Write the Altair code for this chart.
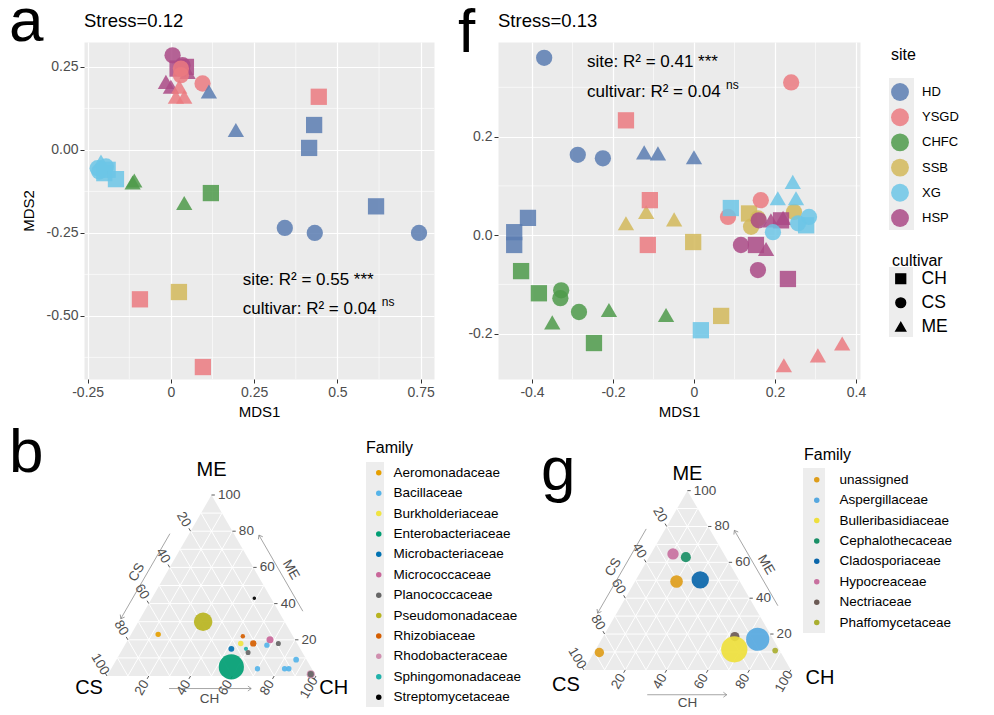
import altair as alt
import pandas as pd

FONT = "Liberation Sans"
S3 = 0.8660254

# ---------------- NMDS panels ----------------
SITES = ["HD", "YSGD", "CHFC", "SSB", "XG", "HSP"]
SITE_COLORS = ["#5B7DB1", "#EB7A80", "#4E9A4A", "#D2B95A", "#6CC5E6", "#AA4A86"]
CULTIVARS = ["CH", "CS", "ME"]
CULTIVAR_SHAPES = ["square", "circle", "triangle-up"]

# panel a (drawing order)
a_site = ["HSP", "HSP", "HSP", "HSP", "HSP", "HSP", "HSP",
          "YSGD", "YSGD", "YSGD", "YSGD", "YSGD", "YSGD", "YSGD", "YSGD", "YSGD",
          "HD", "HD", "HD", "HD", "HD", "HD", "HD", "HD",
          "XG", "XG", "XG", "XG", "XG", "XG", "XG",
          "CHFC", "CHFC", "CHFC", "CHFC",
          "SSB"]
a_cultivar = ["CS", "ME", "ME", "ME", "CS", "CH", "CH",
              "CS", "CS", "CS", "ME", "ME", "ME", "CH", "CH", "CH",
              "ME", "ME", "CH", "CH", "CH", "CS", "CS", "CS",
              "ME", "CS", "CS", "CS", "CH", "CH", "CH",
              "ME", "ME", "ME", "CH",
              "CH"]
a_mds1 = [0.005, -0.015, 0.0, 0.05, 0.035, 0.02, 0.045,
          0.03, 0.03, 0.095, 0.015, 0.04, 0.025, 0.444, -0.093, 0.096,
          0.114, 0.195, 0.43, 0.415, 0.616, 0.342, 0.432, 0.745,
          -0.21, -0.22, -0.195, -0.215, -0.19, -0.2, -0.165,
          -0.11, -0.115, 0.04, 0.12,
          0.024]
a_mds2 = [0.285, 0.205, 0.19, 0.235, 0.255, 0.245, 0.25,
          0.245, 0.225, 0.2, 0.16, 0.16, 0.19, 0.16, -0.45, -0.654,
          0.176, 0.06, 0.075, 0.006, -0.17, -0.235, -0.25, -0.25,
          -0.035, -0.055, -0.05, -0.065, -0.06, -0.07, -0.088,
          -0.092, -0.098, -0.16, -0.13,
          -0.428]

# panel f (drawing order)
f_site = ["SSB"] * 9 + ["YSGD"] * 9 + ["HSP"] * 9 + ["XG"] * 9 + ["HD"] * 9 + ["CHFC"] * 9
f_cultivar = ["ME", "ME", "ME", "CH", "CH", "CH", "CS", "CS", "CS",
              "CS", "CH", "CH", "CH", "CS", "CS", "ME", "ME", "ME",
              "CS", "CS", "CS", "CH", "CH", "CH", "ME", "ME", "ME",
              "CH", "CH", "CH", "ME", "ME", "ME", "CS", "CS", "CS",
              "CS", "CS", "CS", "ME", "ME", "ME", "CH", "CH", "CH",
              "CH", "CH", "CS", "CS", "CS", "ME", "ME", "ME", "CH"]
f_mds1 = [-0.168, -0.118, -0.049, -0.002, 0.067, 0.136, 0.141, 0.158, 0.247,
          0.24, -0.168, -0.109, -0.114, 0.084, 0.165, 0.222, 0.306, 0.366,
          0.116, 0.158, 0.16, 0.153, 0.232, 0.215, 0.178, 0.19, 0.22,
          0.091, 0.017, 0.277, 0.244, 0.207, 0.252, 0.284, 0.257, 0.195,
          -0.37, -0.287, -0.225, -0.123, -0.089, 0.0, -0.41, -0.444, -0.444,
          -0.427, -0.383, -0.328, -0.33, -0.284, -0.35, -0.21, -0.069, -0.247]
f_mds2 = [0.024, 0.047, 0.032, -0.014, -0.164, 0.044, 0.017, 0.034, 0.047,
          0.31, 0.233, 0.071, -0.02, 0.037, 0.071, -0.264, -0.244, -0.22,
          -0.02, -0.071, 0.03, -0.02, -0.089, 0.03, -0.028, 0.03, 0.035,
          0.055, -0.193, 0.02, 0.108, 0.075, 0.075, 0.037, 0.024, 0.006,
          0.36, 0.163, 0.156, 0.168, 0.166, 0.158, 0.035, 0.006, -0.02,
          -0.073, -0.118, -0.112, -0.128, -0.156, -0.177, -0.152, -0.162, -0.219]

A_XTICKS = [-0.25, 0, 0.25, 0.5, 0.75]
A_YTICKS = [-0.5, -0.25, 0, 0.25]
A_XMINOR = [-0.125, 0.125, 0.375, 0.625]
A_YMINOR = [-0.625, -0.375, -0.125, 0.125]
F_XTICKS = [-0.4, -0.2, 0, 0.2, 0.4]
F_YTICKS = [-0.2, 0, 0.2]
F_XMINOR = [-0.3, -0.1, 0.1, 0.3]
F_YMINOR = [-0.1, 0.1, 0.3]

# ---------------- Ternary panels ----------------
B_FAMILIES = ["Aeromonadaceae", "Bacillaceae", "Burkholderiaceae", "Enterobacteriaceae",
              "Microbacteriaceae", "Micrococcaceae", "Planococcaceae", "Pseudomonadaceae",
              "Rhizobiaceae", "Rhodobacteraceae", "Sphingomonadaceae", "Streptomycetaceae"]
B_COLORS = ["#E69F00", "#56B4E9", "#F0E442", "#009E73", "#0072B2", "#C9679A",
            "#666666", "#B8B420", "#D55E00", "#D08FAF", "#20B2AA", "#000000"]
b_family = ["Enterobacteriaceae", "Pseudomonadaceae", "Rhodobacteraceae", "Planococcaceae",
            "Aeromonadaceae", "Streptomycetaceae", "Rhizobiaceae", "Rhizobiaceae",
            "Burkholderiaceae", "Microbacteriaceae", "Sphingomonadaceae", "Planococcaceae",
            "Micrococcaceae", "Bacillaceae", "Planococcaceae", "Bacillaceae", "Bacillaceae",
            "Bacillaceae", "Bacillaceae"]
b_CH = [57, 31, 97, 97, 13, 49, 54, 61, 55, 52, 59, 61, 68, 68, 73, 86, 85, 83, 70]
b_ME = [5, 30, 1, 1, 23, 43, 22, 18, 18, 15, 15, 13, 20, 17, 18, 9, 4, 4, 4]
b_CS = [38, 39, 2, 2, 64, 8, 24, 21, 27, 33, 26, 26, 12, 15, 9, 5, 11, 13, 26]
b_abund = [29.5, 16.0, 3.0, 1.8, 1.4, 0.6, 0.9, 1.9, 1.4, 1.6, 0.8, 1.2, 2.3, 1.3, 1.2, 1.5, 1.4, 1.4, 1.3]

G_FAMILIES = ["unassigned", "Aspergillaceae", "Bulleribasidiaceae", "Cephalothecaceae",
              "Cladosporiaceae", "Hypocreaceae", "Nectriaceae", "Phaffomycetaceae"]
G_COLORS = ["#DE9D1A", "#56A8E0", "#EEDF3C", "#1A8F66", "#0A66AA", "#C8709F", "#6B5A55", "#A9AE30"]
g_family = ["Nectriaceae", "Bulleribasidiaceae", "Aspergillaceae", "Cladosporiaceae",
            "unassigned", "Hypocreaceae", "Cephalothecaceae", "unassigned", "Phaffomycetaceae"]
g_CH = [63.6, 66.9, 75.4, 31.1, 20.1, 10.7, 17.8, 2.6, 87.0]
g_ME = [18.6, 11.5, 17.1, 50.2, 49.3, 64.7, 62.9, 9.7, 10.8]
g_CS = [17.8, 21.6, 7.5, 18.7, 30.6, 24.6, 19.3, 87.7, 2.2]
g_abund = [4.0, 32.0, 25.0, 14.0, 7.4, 6.0, 4.7, 4.1, 1.5]

TERN_TICKS = [20, 40, 60, 80, 100]
TERN_GRID = [10, 20, 30, 40, 50, 60, 70, 80, 90]

KEY_FILL = "#EDEDED"
MINUS = "\u2212"

# ---------------- builders ----------------

def letter_layer(letter, dx, dy):
    return alt.Chart(pd.DataFrame({"lab": [letter]})).mark_text(
        fontSize=62, align="left", baseline="alphabetic", color="black"
    ).encode(x=alt.value(dx), y=alt.value(dy), text="lab:N")


def key_box(x1, x2, y1, y2):
    return alt.Chart(pd.DataFrame({"k": [0]})).mark_rect(color=KEY_FILL).encode(
        x=alt.value(x1), x2=alt.value(x2), y=alt.value(y1), y2=alt.value(y2))


def label_expr(fmt):
    return f"replace(format(datum.value, '{fmt}'), '{MINUS}', '-')"


def nmds_panel(site, cult, m1, m2, xdom, ydom, width, height, xt, yt, xm, ym,
               xfmt, yfmt, ytitle, stress, letter, letter_dx, letter_dy,
               r2_x, r2_y1, r2_y2, r2_site, r2_cult, legends):
    df = pd.DataFrame({"site": site, "cultivar": cult, "MDS1": m1, "MDS2": m2})
    xs = alt.Scale(domain=xdom, nice=False, zero=False)
    ys = alt.Scale(domain=ydom, nice=False, zero=False)
    xaxis = alt.Axis(values=xt, labelExpr=label_expr(xfmt), title="MDS1", titlePadding=5)
    if ytitle:
        yaxis = alt.Axis(values=yt, labelExpr=label_expr(yfmt), title=ytitle, titlePadding=10)
    else:
        yaxis = alt.Axis(values=yt, labelExpr=label_expr(yfmt), title=None)
    vmin = alt.Chart(pd.DataFrame({"v": xm})).mark_rule(color="white", strokeWidth=0.6).encode(
        x=alt.X("v:Q", scale=xs, axis=xaxis))
    hmin = alt.Chart(pd.DataFrame({"v": ym})).mark_rule(color="white", strokeWidth=0.6).encode(
        y=alt.Y("v:Q", scale=ys, axis=yaxis))
    if legends:
        cleg = alt.Legend(orient="none", legendX=393, legendY=5, title="site", titleFontSize=16,
                          titlePadding=20, labelFontSize=13, symbolSize=320, symbolType="circle",
                          symbolOpacity=0.85, symbolStrokeWidth=0, rowPadding=7.2, labelOffset=13)
        sleg = alt.Legend(orient="none", legendX=394, legendY=211, title="cultivar", titleFontSize=16,
                          titlePadding=1, labelFontSize=17.5, symbolSize=95, symbolFillColor="black",
                          symbolStrokeColor="black", symbolOpacity=1, rowPadding=5, labelOffset=12)
    else:
        cleg = None
        sleg = None
    pts = alt.Chart(df).mark_point(filled=True, opacity=0.85, size=265, strokeWidth=0).encode(
        x=alt.X("MDS1:Q", scale=xs, axis=xaxis),
        y=alt.Y("MDS2:Q", scale=ys, axis=yaxis),
        color=alt.Color("site:N", scale=alt.Scale(domain=SITES, range=SITE_COLORS), legend=cleg),
        shape=alt.Shape("cultivar:N", scale=alt.Scale(domain=CULTIVARS, range=CULTIVAR_SHAPES), legend=sleg),
    )
    st = alt.Chart(pd.DataFrame({"lab": [stress]})).mark_text(
        fontSize=18.5, align="left", baseline="alphabetic", color="black"
    ).encode(x=alt.value(0), y=alt.value(-15), text="lab:N")

    def ann(txt, yv, size, dx, dy):
        return alt.Chart(pd.DataFrame({"lab": [txt]})).mark_text(
            fontSize=size, align="left", baseline="middle", color="black", dx=dx, dy=dy
        ).encode(x=alt.XDatum(r2_x, scale=xs, axis=xaxis), y=alt.YDatum(yv, scale=ys, axis=yaxis),
                 text="lab:N")

    t1 = ann(r2_site, r2_y1, 17, 0, 0)
    t2 = ann(r2_cult, r2_y2, 17, 0, 0)
    t3 = ann("ns", r2_y2, 12, 139, -7)
    layers = [vmin, hmin, pts, t1, t2, t3, st, letter_layer(letter, letter_dx, letter_dy)]
    if legends:
        layers = [key_box(391, 416, 36, 188), key_box(391, 415, 225, 295)] + layers
    return alt.layer(*layers).properties(
        width=width, height=height, view=alt.ViewBackground(fill="#EBEBEB", stroke="transparent"))


ARROW = "M -1 -0.75 L 0 0 L -1 0.75"


def ternary_panel(fam, ch, me, cs, ab, fam_dom, fam_col, xdom, ydom, pxu, leg_x, leg_y, leg_pad, leg_row,
                  leg_lo, letter, letter_dx, letter_dy, vlabels, arrows, keybox):
    xs = alt.Scale(domain=xdom, nice=False, zero=False)
    ys = alt.Scale(domain=ydom, nice=False, zero=False)
    width = (xdom[1] - xdom[0]) * pxu
    height = (ydom[1] - ydom[0]) * pxu

    def X(f):
        return alt.X(f, type="quantitative", scale=xs, axis=None)

    def Y(f):
        return alt.Y(f, type="quantitative", scale=ys, axis=None)

    def XD(v):
        return alt.XDatum(v, scale=xs, axis=None)

    def YD(v):
        return alt.YDatum(v, scale=ys, axis=None)

    corners = pd.DataFrame({"CH": [0, 0, 100], "ME": [0, 100, 0]})
    frame = alt.Chart(corners).transform_calculate(
        x="datum.CH + datum.ME/2", y=f"datum.ME*{S3}"
    ).mark_area(color="#EBEBEB", opacity=1).encode(x=X("x"), y=Y("y"), y2=alt.Y2Datum(0))

    def segs(values, x1, y1, x2, y2, color, w):
        return alt.Chart(pd.DataFrame({"t": values})).transform_calculate(
            x1=x1, y1=y1, x2=x2, y2=y2
        ).mark_rule(color=color, strokeWidth=w).encode(x=X("x1"), y=Y("y1"), x2="x2:Q", y2="y2:Q")

    grid = [
        segs(TERN_GRID, "datum.t/2", f"datum.t*{S3}", "100-datum.t/2", f"datum.t*{S3}", "white", 1.0),
        segs(TERN_GRID, "datum.t", "0", "50+datum.t/2", f"(100-datum.t)*{S3}", "white", 1.0),
        segs(TERN_GRID, "100-datum.t", "0", "(100-datum.t)/2", f"(100-datum.t)*{S3}", "white", 1.0),
    ]
    tk = 1.6
    ticks = [
        segs(TERN_TICKS, "100-datum.t/2", f"datum.t*{S3}", f"100-datum.t/2+{tk}", f"datum.t*{S3}", "#333333", 0.8),
        segs(TERN_TICKS, "(100-datum.t)/2", f"(100-datum.t)*{S3}", f"(100-datum.t)/2-{tk*0.5}",
             f"(100-datum.t)*{S3}+{tk*S3}", "#333333", 0.8),
        segs(TERN_TICKS, "datum.t", "0", f"datum.t-{tk*0.5}", f"-{tk*S3}", "#333333", 0.8),
    ]

    def labs(x, y, angle, align):
        return alt.Chart(pd.DataFrame({"t": TERN_TICKS})).transform_calculate(x=x, y=y).mark_text(
            angle=angle, align=align, baseline="middle", fontSize=13.5, color="#4D4D4D"
        ).encode(x=X("x"), y=Y("y"), text="t:Q")

    off = 6.5
    tick_labels = [
        labs(f"100-datum.t/2+{tk+1.5}", f"datum.t*{S3}", 0, "left"),
        labs(f"(100-datum.t)/2-{off*0.5}", f"(100-datum.t)*{S3}+{off*S3}", 60, "center"),
        labs(f"datum.t-{off*0.5}", f"-{off*S3}", 300, "center"),
    ]

    pts_df = pd.DataFrame({"family": fam, "CH": ch, "ME": me, "CS": cs, "ab": ab})
    pts = alt.Chart(pts_df).transform_calculate(
        tot="datum.CH+datum.ME+datum.CS",
        x="100*(datum.CH + datum.ME/2)/datum.tot",
        y=f"100*datum.ME*{S3}/datum.tot",
    ).mark_circle(opacity=0.92).encode(
        x=X("x"), y=Y("y"),
        color=alt.Color("family:N", scale=alt.Scale(domain=fam_dom, range=fam_col),
                        legend=alt.Legend(orient="none", legendX=leg_x, legendY=leg_y, title="Family",
                                          titleFontSize=16, titlePadding=leg_pad, labelFontSize=13.5,
                                          symbolSize=30, symbolType="circle", symbolOpacity=1,
                                          symbolStrokeWidth=0, rowPadding=leg_row, labelOffset=leg_lo,
                                          symbolOffset=6)),
        size=alt.Size("ab:Q", scale=alt.Scale(domain=[0, 100], range=[0, 2150]), legend=None),
    )

    layers = [key_box(*keybox), frame] + grid + ticks + tick_labels
    for lab, x, y, size, angle in vlabels:
        layers.append(alt.Chart(pd.DataFrame({"lab": [lab]})).mark_text(
            fontSize=size, angle=angle, align="center", baseline="middle",
            color="black" if size > 15 else "#4D4D4D"
        ).encode(x=XD(x), y=YD(y), text="lab:N"))
    for (x1, y1, x2, y2, ang) in arrows:
        layers.append(alt.Chart(pd.DataFrame({"k": [0]})).mark_rule(color="#7F7F7F", strokeWidth=0.7).encode(
            x=XD(x1), y=YD(y1), x2=alt.X2Datum(x2), y2=alt.Y2Datum(y2)))
        layers.append(alt.Chart(pd.DataFrame({"k": [0]})).mark_point(
            shape=ARROW, filled=False, size=45, angle=ang, color="#7F7F7F", strokeWidth=0.7, opacity=1
        ).encode(x=XD(x2), y=YD(y2)))
    layers.append(pts)
    layers.append(letter_layer(letter, letter_dx, letter_dy))
    return alt.layer(*layers).properties(width=width, height=height)


pa = nmds_panel(a_site, a_cultivar, a_mds1, a_mds2, [-0.261, 0.79], [-0.69, 0.325], 350, 337,
                A_XTICKS, A_YTICKS, A_XMINOR, A_YMINOR, ".2~f", ".2f", "MDS2", "Stress=0.12",
                "a", -75, -1, 0.216, -0.392, -0.48,
                "site: R\u00b2 = 0.55 ***", "cultivar: R\u00b2 = 0.04", False)
pf = nmds_panel(f_site, f_cultivar, f_mds1, f_mds2, [-0.484, 0.41], [-0.292, 0.392], 362, 337,
                F_XTICKS, F_YTICKS, F_XMINOR, F_YMINOR, ".1~f", ".1f", None, "Stress=0.13",
                "f", -40, 10, -0.264, 0.352, 0.291,
                "site: R\u00b2 = 0.41 ***", "cultivar: R\u00b2 = 0.04", True)

b_vlabels = [("ME", 50, 98.5, 20, 0), ("CS", -8.6, -5.7, 20, 0), ("CH", 108.5, -5.7, 20, 0),
             ("CS", 14.2, 49.6, 13.5, 300), ("ME", 88.0, 50.8, 13.5, 60), ("CH", 49, -11, 13.5, 0)]
b_arrows = [(30.1, 68.1, 6.6, 27.4, 120), (93.7, 31.0, 72.7, 67.4, 240), (29.7, -6.0, 69.0, -6.0, 0)]
pb = ternary_panel(b_family, b_CH, b_ME, b_CS, b_abund, B_FAMILIES, B_COLORS,
                   [-11, 122], [-16, 103.35], 2.09, 282, -20, 10, 5.4, 8, "b", -75, 12, b_vlabels, b_arrows,
                   (282, 300, 2, 247))

g_vlabels = [("ME", 50, 94.7, 20, 0), ("CS", -8.7, -7.2, 20, 0), ("CH", 114, -3.8, 20, 0),
             ("CS", 14.2, 49.6, 13.5, 300), ("ME", 88.0, 50.8, 13.5, 60), ("CH", 50, -16, 13.5, 0)]
g_arrows = [(30.1, 68.1, 6.6, 27.4, 120), (93.7, 31.0, 72.7, 67.4, 240), (30.6, -12.0, 69.0, -12.0, 0)]
pg = ternary_panel(g_family, g_CH, g_ME, g_CS, g_abund, G_FAMILIES, G_COLORS,
                   [-41.5, 112], [-20, 101.4], 2.07, 306, -13, 10, 5.4, 16, "g", 43, 30, g_vlabels, g_arrows,
                   (305, 327, 8, 173))

chart = alt.concat(
    pa, pf, pb, pg, columns=2, spacing={"row": 81, "column": 64}, bounds="flush", align="each"
).resolve_scale(
    color="independent", shape="independent", size="independent", x="independent", y="independent"
).resolve_legend(
    color="independent", shape="independent"
).properties(
    padding={"left": 0, "top": -18, "right": 0, "bottom": 0}
).configure(
    font=FONT
).configure_axis(
    labelFontSize=14, labelColor="#4D4D4D", titleFontSize=15, titleFontWeight="normal", titleColor="black",
    tickColor="#333333", tickSize=4, domain=False, gridColor="white", gridWidth=1.2, labelPadding=2,
    labelFont=FONT, titleFont=FONT
).configure_view(
    stroke="transparent"
).configure_legend(
    titleFontWeight="normal", labelColor="black", titleColor="black", labelFont=FONT, titleFont=FONT
)

chart.save("out.html", embed_options={"renderer": "svg", "actions": False})
